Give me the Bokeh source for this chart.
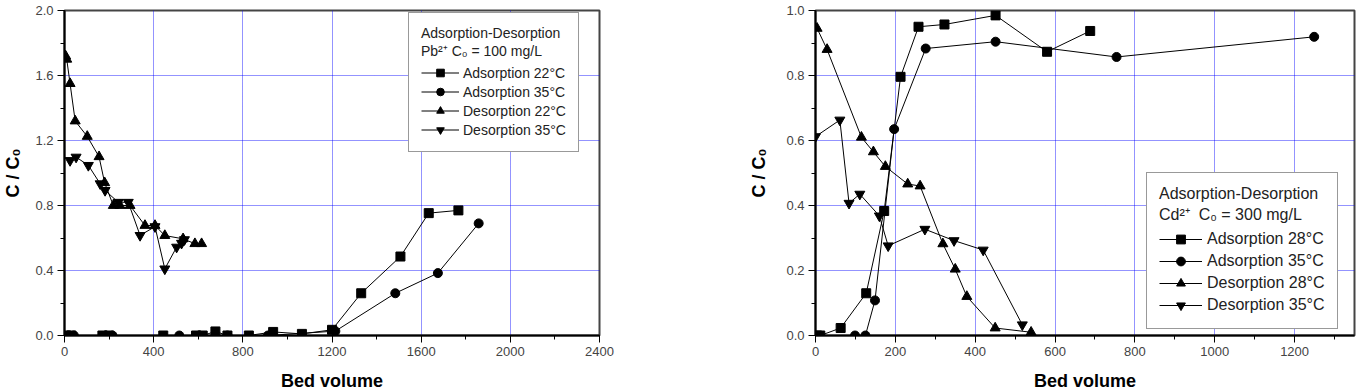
from bokeh.plotting import figure
from bokeh.layouts import row
from bokeh.models import Legend, LegendItem, PrintfTickFormatter, SingleIntervalTicker, Range1d
from bokeh.embed import file_html
from bokeh.resources import INLINE

# ---------------- Left panel: Pb2+ ----------------
pb_ads22_x = [8, 30, 170, 200, 443, 590, 620, 677, 731, 827, 936, 1065, 1200, 1331, 1507, 1634, 1767]
pb_ads22_y = [0, 0, 0, 0, 0, 0, 0, 0.025, 0, 0, 0.022, 0.01, 0.035, 0.26, 0.486, 0.753, 0.77]
pb_ads35_x = [18, 42, 185, 215, 515, 605, 731, 913, 1215, 1484, 1675, 1858]
pb_ads35_y = [0, 0, 0, 0, 0, 0, 0, 0, 0.027, 0.26, 0.384, 0.69]
pb_des22_x = [5, 10, 25, 48, 102, 155, 180, 219, 249, 294, 361, 406, 450, 532, 585, 615]
pb_des22_y = [1.72, 1.70, 1.55, 1.32, 1.225, 1.10, 0.94, 0.80, 0.80, 0.80, 0.677, 0.677, 0.615, 0.595, 0.565, 0.565]
pb_des35_x = [25, 52, 107, 160, 182, 241, 286, 339, 406, 450, 503, 525, 538]
pb_des35_y = [1.077, 1.098, 1.047, 0.934, 0.893, 0.82, 0.82, 0.616, 0.67, 0.41, 0.544, 0.568, 0.59]
pb_labels = ["Adsorption 22\u00b0C", "Adsorption 35\u00b0C", "Desorption 22\u00b0C", "Desorption 35\u00b0C"]
pb_title = "Adsorption-Desorption\nPb\u00b2\u207a C\u2080 = 100 mg/L"

# ---------------- Right panel: Cd2+ ----------------
cd_ads28_x = [4, 12, 63, 127, 172, 213, 258, 323, 451, 580, 688]
cd_ads28_y = [0, 0, 0.023, 0.13, 0.383, 0.796, 0.95, 0.957, 0.985, 0.873, 0.937]
cd_ads35_x = [99, 125, 149, 197, 276, 451, 754, 1249]
cd_ads35_y = [0, 0, 0.108, 0.635, 0.883, 0.904, 0.857, 0.919]
cd_des28_x = [4, 29, 115, 145, 175, 231, 262, 319, 350, 379, 450, 540]
cd_des28_y = [0.945, 0.88, 0.61, 0.565, 0.52, 0.466, 0.46, 0.282, 0.204, 0.12, 0.023, 0.01]
cd_des35_x = [0, 61, 84, 111, 160, 182, 274, 347, 420, 518]
cd_des35_y = [0.612, 0.663, 0.407, 0.435, 0.368, 0.276, 0.327, 0.292, 0.263, 0.033]
cd_labels = ["Adsorption 28\u00b0C", "Adsorption 35\u00b0C", "Desorption 28\u00b0C", "Desorption 35\u00b0C"]
cd_title = "Adsorption-Desorption\nCd\u00b2\u207a  C\u2080 = 300 mg/L"

FONT = "Liberation Sans"
markers = ["square", "circle", "triangle", "inverted_triangle"]
msizes = [9, 9, 10, 10]


def make_fig(xr, yr, xint, yint, fw, mb_left, mb_right, ylab_standoff):
    p = figure(frame_width=fw, frame_height=325,
               x_range=Range1d(*xr), y_range=Range1d(*yr),
               output_backend="svg", toolbar_location=None,
               min_border_left=mb_left, min_border_right=mb_right,
               min_border_top=10, min_border_bottom=56,
               background_fill_color="white", border_fill_color="white")
    p.xaxis.ticker = SingleIntervalTicker(interval=xint, num_minor_ticks=2)
    p.yaxis.ticker = SingleIntervalTicker(interval=yint, num_minor_ticks=2)
    p.yaxis.formatter = PrintfTickFormatter(format="%.1f")
    for ax in (p.xaxis, p.yaxis):
        ax.axis_line_color = "black"
        ax.axis_line_width = 2
        ax.major_tick_out = 7
        ax.major_tick_in = 0
        ax.minor_tick_out = 4
        ax.minor_tick_in = 0
        ax.major_tick_line_color = "black"
        ax.minor_tick_line_color = "black"
        ax.major_label_text_font = FONT
        ax.major_label_text_font_size = "13px"
        ax.major_label_text_color = "#444444"
        ax.major_label_standoff = 4
        ax.axis_label_text_font = FONT
        ax.axis_label_text_font_size = "18px"
        ax.axis_label_text_font_style = "bold"
        ax.axis_label_text_color = "black"
    p.xaxis.axis_label = "Bed volume"
    p.yaxis.axis_label = "C / C\u2080"
    p.xaxis.axis_label_standoff = 12
    p.yaxis.axis_label_standoff = ylab_standoff
    for g in (p.xgrid, p.ygrid):
        g.grid_line_color = "#0000ff"
        g.grid_line_dash = "1 1"
        g.grid_line_width = 1
        g.grid_line_alpha = 0.85
    p.outline_line_color = "#444444"
    p.outline_line_width = 2
    return p


def add_series(p, xs, ys, labels, title, loc, fsize, row_h, pad, gw, stand):
    items = []
    for x, y, lab, mk, ms in zip(xs, ys, labels, markers, msizes):
        r1 = p.line(x, y, line_color="black", line_width=1)
        r2 = p.scatter(x, y, marker=mk, size=ms, fill_color="black", line_color="black")
        items.append(LegendItem(label=lab, renderers=[r1, r2]))
    leg = Legend(items=items, location=loc, title=title,
                 title_text_font=FONT, title_text_font_size=fsize, title_text_font_style="normal",
                 title_text_color="#222222", title_standoff=3,
                 label_text_font=FONT, label_text_font_size=fsize, label_text_color="#222222",
                 glyph_width=gw, glyph_height=row_h, label_height=row_h, spacing=0,
                 label_standoff=stand, padding=pad, margin=0,
                 border_line_color="#333333", border_line_width=1.5,
                 background_fill_color="white", background_fill_alpha=1.0)
    p.add_layout(leg)


p1 = make_fig((0, 2400), (0, 2.0), 400, 0.4, 535, 64, 141, 9)
add_series(p1, [pb_ads22_x, pb_ads35_x, pb_des22_x, pb_des35_x],
           [pb_ads22_y, pb_ads35_y, pb_des22_y, pb_des35_y],
           pb_labels, pb_title, (344, 183), "14px", 19, 12, 38, 4)

p2 = make_fig((0, 1350), (0, 1.0), 200, 0.2, 539, 75, 9, 14)
add_series(p2, [cd_ads28_x, cd_ads35_x, cd_des28_x, cd_des35_x],
           [cd_ads28_y, cd_ads35_y, cd_des28_y, cd_des35_y],
           cd_labels, cd_title, (331, 6), "16px", 22, 12, 43, 5)

layout = row(p1, p2)
open("out.html", "w").write(file_html(layout, INLINE))
